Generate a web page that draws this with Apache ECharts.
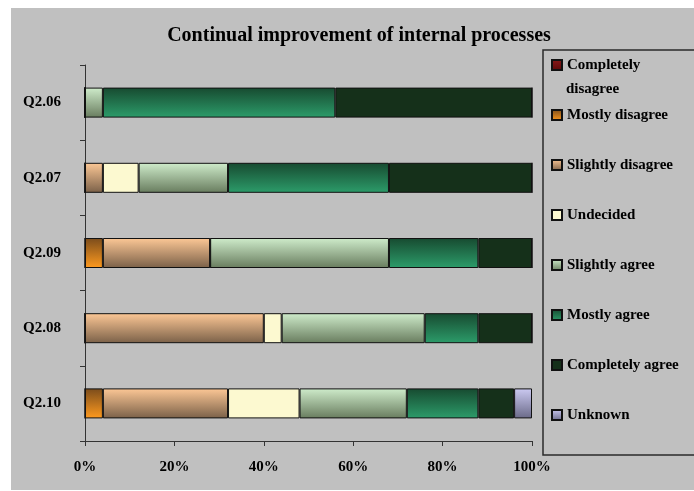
<!DOCTYPE html>
<html>
<head>
<meta charset="utf-8">
<script src="https://cdn.jsdelivr.net/npm/echarts@6/dist/echarts.min.js"></script>
<style>
html,body{margin:0;padding:0;background:#fff;}
#main{width:694px;height:491px;}
</style>
</head>
<body>
<div id="main"></div>
<script>
const categories = ['Q2.06','Q2.07','Q2.09','Q2.08','Q2.10'];
const xTicks = [0,20,40,60,80,100];
const completelyDisagree = [0,0,0,0,0];
const mostlyDisagree     = [0,0,4,0,4];
const slightlyDisagree   = [0,4,24,40,28];
const undecided          = [0,8,0,4,16];
const slightlyAgree      = [4,20,40,32,24];
const mostlyAgree        = [52,36,20,12,16];
const completelyAgree    = [44,32,12,12,8];
const unknown            = [0,0,0,0,4];

const seriesNames = ['Completely disagree','Mostly disagree','Slightly disagree','Undecided','Slightly agree','Mostly agree','Completely agree','Unknown'];
const seriesData = [completelyDisagree,mostlyDisagree,slightlyDisagree,undecided,slightlyAgree,mostlyAgree,completelyAgree,unknown];

function grad(top, bottom){
  return {type:'linear',x:0,y:0,x2:0,y2:1,colorStops:[{offset:0,color:top},{offset:1,color:bottom}]};
}
const seriesColors = [
  grad('#8a1a1a','#5a0808'),
  grad('#7a4c1c','#ff9a1e'),
  grad('#fdc896','#7a6048'),
  '#fcf9d0',
  grad('#cfeccb','#687c5e'),
  grad('#174a30','#2c9c6a'),
  '#15301a',
  grad('#cccaf2','#6a6a88')
];

const font = 'Liberation Serif, Times New Roman, serif';
const chart = echarts.init(document.getElementById('main'), null, {renderer:'canvas'});
chart.setOption({
  animation:false,
  backgroundColor:'#ffffff',
  graphic:[
    {type:'rect', z:-10, shape:{x:11,y:8,width:683,height:482}, style:{fill:'#c0c0c0'}, silent:true},
    {type:'rect', z:-5, shape:{x:543,y:50,width:160,height:405}, style:{fill:'none',stroke:'#2a2a2a',lineWidth:1.5}, silent:true},
    {type:'text', z:10, left:566, top:82, style:{text:'disagree', font:'bold 15px ' + font, fill:'#000'}}
  ],
  title:{
    text:'Continual improvement of internal processes',
    left:354, top:21, textAlign:'center',
    textStyle:{fontFamily:font, fontWeight:'bold', fontSize:20, color:'#000'}
  },
  legend:{
    orient:'vertical', left:546, top:52,
    itemWidth:10, itemHeight:10, itemGap:34,
    icon:'rect',
    data:seriesNames,
    formatter:function(n){ return n==='Completely disagree' ? 'Completely' : n; },
    textStyle:{fontFamily:font, fontWeight:'bold', fontSize:15, lineHeight:16, color:'#000'}
  },
  grid:{left:85, right:162, top:65, bottom:50, containLabel:false},
  xAxis:{
    type:'value', min:0, max:100, interval:20,
    axisLine:{show:true, lineStyle:{color:'#333', width:1}},
    axisTick:{show:true, length:5, lineStyle:{color:'#333'}},
    splitLine:{show:false},
    axisLabel:{formatter:function(v){return xTicks.indexOf(v)>=0 ? v+'%' : '';}, margin:19, fontFamily:font, fontWeight:'bold', fontSize:15, color:'#000'}
  },
  yAxis:{
    type:'category', data:categories, inverse:true,
    axisLine:{show:true, lineStyle:{color:'#333', width:1}},
    axisTick:{show:true, length:5, lineStyle:{color:'#333'}},
    axisLabel:{margin:24, fontFamily:font, fontWeight:'bold', fontSize:15, color:'#000'}
  },
  series: seriesNames.map(function(n,i){
    return {
      name:n, type:'bar', stack:'total', barWidth:30,
      data:seriesData[i],
      itemStyle:{color:seriesColors[i], borderColor:'#111', borderWidth:1}
    };
  })
});
</script>
</body>
</html>
